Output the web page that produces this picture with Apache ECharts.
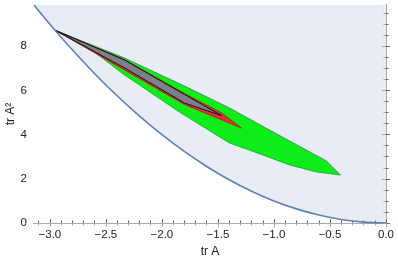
<!DOCTYPE html>
<html>
<head>
<meta charset="utf-8">
<script src="https://cdn.jsdelivr.net/npm/echarts@6/dist/echarts.min.js"></script>
<style>html,body{margin:0;padding:0;background:#fff}#c{width:398px;height:263px}</style>
</head>
<body>
<div id="c"></div>
<script>
// Boundary curve
const boundaryCurve = [
  [-3.1416, 9.87], [-3.0, 9.0], [-2.8, 7.84], [-2.6, 6.76], [-2.4, 5.76], [-2.2, 4.84],
  [-2.0, 4.0], [-1.8, 3.24], [-1.6, 2.56], [-1.4, 1.96], [-1.2, 1.44], [-1.0, 1.0],
  [-0.8, 0.64], [-0.6, 0.36], [-0.4, 0.16], [-0.2, 0.04], [0, 0]
];
// Green region outline
const greenRegion = [
  [-2.95, 8.72], [-2.334, 7.47], [-1.798, 6.20], [-1.397, 5.21], [-1.022, 4.16],
  [-0.531, 2.81], [-0.406, 2.17], [-0.620, 2.31], [-0.861, 2.63], [-1.218, 3.30],
  [-1.397, 3.62], [-1.843, 5.02], [-2.200, 6.25], [-2.334, 6.70], [-2.602, 7.74]
];
// Red region outline
const redRegion = [
  [-2.95, 8.72], [-2.334, 7.40], [-1.798, 5.86], [-1.468, 4.98], [-1.290, 4.30],
  [-1.504, 4.75], [-1.798, 5.36], [-2.334, 6.93]
];
// Black/gray region outline
const blackRegion = [
  [-2.95, 8.72], [-2.334, 7.38], [-1.798, 5.82], [-1.468, 4.86],
  [-1.798, 5.43], [-2.334, 7.02]
];
// Ticks
const xMajor = [-3, -2.5, -2, -1.5, -1, -0.5, 0];
const xMinor = [-3.1, -2.9, -2.8, -2.7, -2.6, -2.4, -2.3, -2.2, -2.1, -1.9, -1.8, -1.7, -1.6,
  -1.4, -1.3, -1.2, -1.1, -0.9, -0.8, -0.7, -0.6, -0.4, -0.3, -0.2, -0.1];
const yMajor = [0, 2, 4, 6, 8];
const yMinor = [0.5, 1, 1.5, 2.5, 3, 3.5, 4.5, 5, 5.5, 6.5, 7, 7.5, 8.5, 9, 9.5];

const XMIN = -Math.PI, XMAX = 0, YMIN = 0, YMAX = Math.PI * Math.PI;
const FONT = 'Liberation Sans';

function fmtX(v) { return (v < 0 ? '\u2212' : '') + Math.abs(v).toFixed(1); }

function axis(kind, gridIndex, position, ticks, len, color, withLabels, name) {
  const a = {
    type: 'value', gridIndex, position, min: kind === 'x' ? XMIN : YMIN, max: kind === 'x' ? XMAX : YMAX,
    axisLine: { show: true, lineStyle: { color, width: 1 } },
    axisTick: { show: true, inside: true, length: len, customValues: ticks, lineStyle: { color, width: 1 } },
    axisLabel: withLabels ? {
      show: true, customValues: ticks, color: '#222', fontFamily: FONT, fontSize: 11.5,
      margin: kind === 'x' ? 6 : 7,
      formatter: kind === 'x' ? fmtX : (v => String(v))
    } : { show: false },
    splitLine: { show: false },
    minorTick: { show: false }
  };
  if (name) {
    a.name = name; a.nameLocation = 'middle';
    a.nameMoveOverlap = false;
    a.nameGap = kind === 'x' ? 23 : 17;
    a.nameTextStyle = { color: '#222', fontFamily: FONT, fontSize: 12 };
  }
  return a;
}

const gridRect = { left: 34, right: 12, top: 5, bottom: 40, containLabel: false, outerBoundsMode: 'none' };

function polySeries(poly, fill, stroke, lw) {
  return {
    type: 'custom', xAxisIndex: 0, yAxisIndex: 0, clip: false,
    data: [poly[0]],
    renderItem: function (params, api) {
      const pts = poly.map(p => api.coord(p));
      return { type: 'polygon', shape: { points: pts }, style: { fill: fill, stroke: stroke, lineWidth: lw } };
    }
  };
}

const chart = echarts.init(document.getElementById('c'), null, { renderer: 'canvas' });
chart.setOption({
  animation: false,
  grid: [Object.assign({}, gridRect), Object.assign({}, gridRect)],
  xAxis: [
    axis('x', 0, 'bottom', xMajor, 4, '#666', true, 'tr A'),
    axis('x', 0, 'top', xMajor, 4, '#aaa', false),
    axis('x', 1, 'bottom', xMinor, 2.5, '#666', false),
    axis('x', 1, 'top', xMinor, 2.5, '#aaa', false)
  ],
  yAxis: [
    axis('y', 0, 'left', yMajor, 4, '#666', true, 'tr A\u00b2'),
    axis('y', 0, 'right', yMajor, 4, '#aaa', false),
    axis('y', 1, 'left', yMinor, 2.5, '#666', false),
    axis('y', 1, 'right', yMinor, 2.5, '#aaa', false)
  ],
  series: [
    {
      type: 'line', xAxisIndex: 0, yAxisIndex: 0, data: boundaryCurve, smooth: 0.3,
      showSymbol: false, symbol: 'none',
      lineStyle: { color: '#5E81B5', width: 1.6 },
      areaStyle: { origin: 'end', color: 'rgba(94,129,181,0.2)' }
    },
    polySeries(greenRegion, '#00ff00', '#1a9a1a', 0.8),
    polySeries(redRegion, '#ff2020', '#c00000', 0.8),
    polySeries(blackRegion, '#808080', '#000000', 1)
  ]
});
</script>
</body>
</html>
